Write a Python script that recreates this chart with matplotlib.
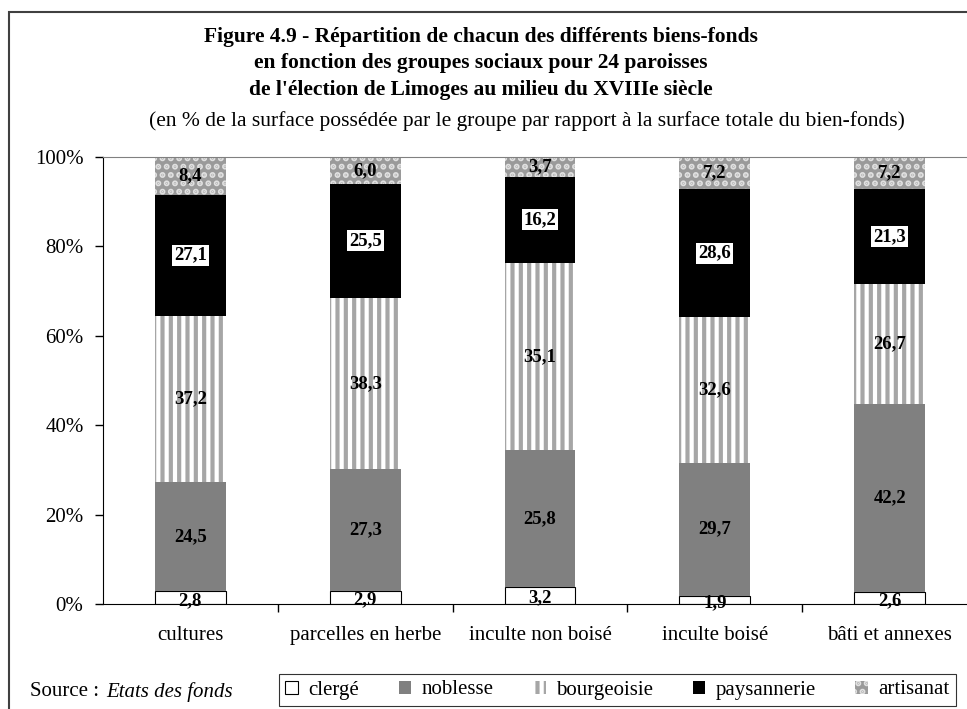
import numpy as np
import matplotlib.pyplot as plt
from matplotlib.patches import Rectangle

plt.rcParams['font.family'] = ['Liberation Serif', 'DejaVu Serif']
plt.rcParams['hatch.linewidth'] = 3.0

categories = ['cultures', 'parcelles en herbe', 'inculte non boisé', 'inculte boisé', 'bâti et annexes']
groupes = ['clergé', 'noblesse', 'bourgeoisie', 'paysannerie', 'artisanat']
clerge = [2.8, 2.9, 3.2, 1.9, 2.6]
noblesse = [24.5, 27.3, 25.8, 29.7, 42.2]
bourgeoisie = [37.2, 38.3, 35.1, 32.6, 26.7]
paysannerie = [27.1, 25.5, 16.2, 28.6, 21.3]
artisanat = [8.4, 6.0, 3.7, 7.2, 7.2]

series = [clerge, noblesse, bourgeoisie, paysannerie, artisanat]
faces = ['white', '#808080', 'white', 'black', '#9a9a9a']
edges = ['black', '#808080', '#a6a6a6', 'black', '#e0e0e0']
hatches = [None, None, '||', None, '..']

fig = plt.figure(figsize=(9.67, 7.09), dpi=100)
ax = fig.add_axes([103 / 967, 105 / 709, 874 / 967, 447 / 709])

# barres empilees a 100 %
vals = np.array(series, dtype=float)
totals = vals.sum(axis=0)
pct = vals / totals * 100
x = np.arange(len(categories))
bottom = np.zeros(len(categories))
for i, name in enumerate(groupes):
    lw = 0.8 if i == 0 else 0
    ax.bar(x, pct[i], 0.405, bottom=bottom, color=faces[i], edgecolor=edges[i],
           hatch=hatches[i], linewidth=lw, label=name)
    for j in range(len(categories)):
        txt = f"{vals[i][j]:.1f}".replace('.', ',')
        yc = bottom[j] + pct[i][j] / 2
        if i == 3:
            ax.text(x[j], yc, txt, ha='center', va='center', fontsize=13.5, fontweight='bold',
                    bbox=dict(facecolor='white', edgecolor='none', pad=1.5))
        elif i == 0:
            ax.text(x[j], yc - 0.6, txt, ha='center', va='center', fontsize=13.5, fontweight='bold')
        else:
            ax.text(x[j], yc, txt, ha='center', va='center', fontsize=13.5, fontweight='bold')
    bottom += pct[i]

ax.set_xlim(-0.5, len(categories) - 0.5)
ax.set_ylim(0, 100)
ax.set_yticks(np.arange(0, 101, 20))
ax.set_yticklabels([f"{v}%" for v in range(0, 101, 20)], fontsize=15)
ax.tick_params(axis='y', direction='out', length=6, width=1, pad=8)
ax.set_xticks(x)
ax.set_xticklabels(categories, fontsize=15)
ax.set_xticks(np.arange(0.5, len(categories) - 0.5, 1), minor=True)
ax.tick_params(axis='x', which='major', length=0, pad=16)
ax.tick_params(axis='x', which='minor', direction='out', length=6, width=1)
ax.spines['right'].set_visible(False)
ax.spines['top'].set_color('#808080')
ax.spines['left'].set_color('black')
ax.spines['bottom'].set_color('black')

fig.text(0.497, 1 - 37 / 709, "Figure 4.9 - Répartition de chacun des différents biens-fonds",
         ha='center', va='center', fontsize=15.5, fontweight='bold')
fig.text(0.497, 1 - 63 / 709, "en fonction des groupes sociaux pour 24 paroisses",
         ha='center', va='center', fontsize=15.5, fontweight='bold')
fig.text(0.497, 1 - 90 / 709, "de l'élection de Limoges au milieu du XVIIIe siècle",
         ha='center', va='center', fontsize=15.5, fontweight='bold')
fig.text(0.545, 1 - 121 / 709,
         "(en % de la surface possédée par le groupe par rapport à la surface totale du bien-fonds)",
         ha='center', va='center', fontsize=15.5)

fig.text(30 / 967, 1 - 692 / 709, "Source : ", ha='left', va='center', fontsize=15)
fig.text(106 / 967, 1 - 692 / 709, "Etats des fonds", ha='left', va='center', fontsize=15,
         style='italic')

leg = fig.legend(loc='center', bbox_to_anchor=(617.5 / 967, 19 / 709), ncol=5, fontsize=15,
                 frameon=True, fancybox=False, edgecolor='black', handlelength=0.6,
                 handleheight=0.6, columnspacing=1.9, handletextpad=0.5, borderpad=0.3,
                 borderaxespad=0.0)
leg.get_frame().set_linewidth(0.8)

fig.patches.append(Rectangle((9 / 967, -0.05), 1.2, 1 - 12 / 709 + 0.05, transform=fig.transFigure,
                             fill=False, edgecolor='#404040', linewidth=1.5))

fig.savefig('out.png', dpi=100)
